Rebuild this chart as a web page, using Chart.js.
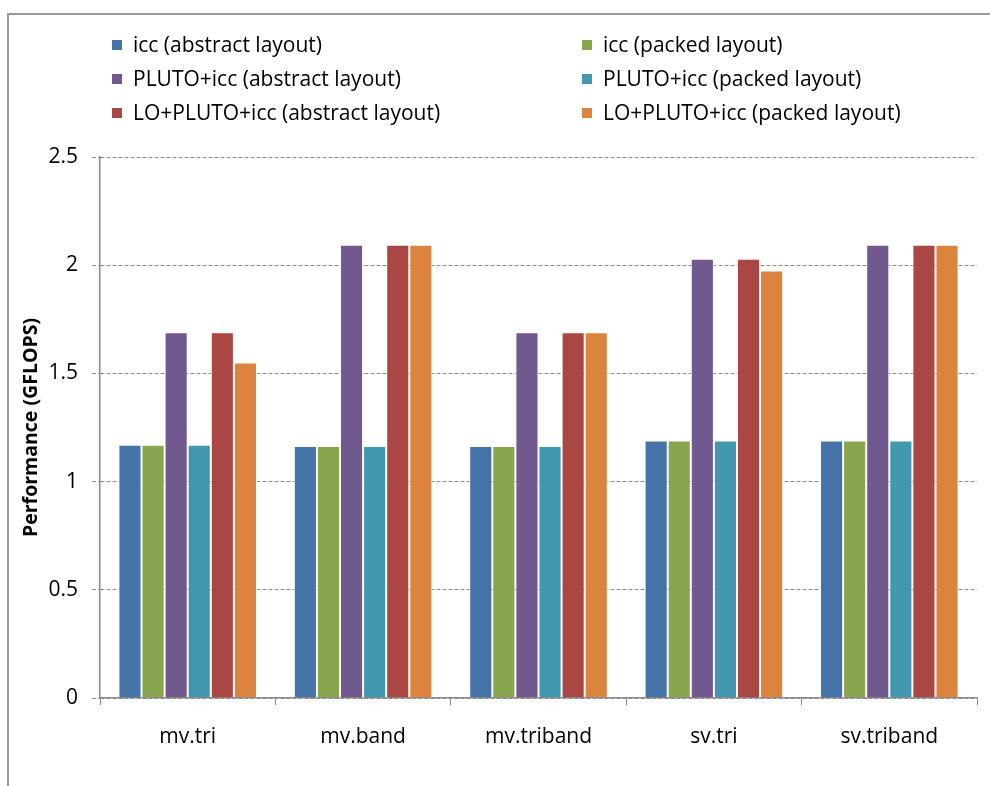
<!DOCTYPE html>
<html>
<head>
<meta charset="utf-8">
<script src="https://cdn.jsdelivr.net/npm/chart.js@4/dist/chart.umd.min.js"></script>
<style>
  html, body { margin: 0; padding: 0; background: #fff; }
  #wrap { position: relative; width: 990px; height: 786px; }
</style>
</head>
<body>
<div id="wrap"><canvas id="c" width="990" height="786"></canvas></div>
<script>
const FONT = '"Open Sans", "Noto Sans", sans-serif';

// Kernels on the x axis
const categories = ['mv.tri', 'mv.band', 'mv.triband', 'sv.tri', 'sv.triband'];

// Performance in GFLOPS per kernel
const iccAbstract      = [1.17, 1.165, 1.165, 1.19, 1.19];
const iccPacked        = [1.17, 1.165, 1.165, 1.19, 1.19];
const plutoAbstract    = [1.69, 2.095, 1.69, 2.03, 2.095];
const plutoPacked      = [1.17, 1.165, 1.165, 1.19, 1.19];
const loPlutoAbstract  = [1.69, 2.095, 1.69, 2.03, 2.095];
const loPlutoPacked    = [1.55, 2.095, 1.69, 1.975, 2.095];

const seriesNames = [
  'icc (abstract layout)',
  'icc (packed layout)',
  'PLUTO+icc (abstract layout)',
  'PLUTO+icc (packed layout)',
  'LO+PLUTO+icc (abstract layout)',
  'LO+PLUTO+icc (packed layout)'
];
const seriesValues = [iccAbstract, iccPacked, plutoAbstract, plutoPacked, loPlutoAbstract, loPlutoPacked];
const seriesColors = ['#4572A7', '#89A54E', '#71588F', '#4198AF', '#AA4643', '#DB843D'];

const yTicks = [0, 0.5, 1, 1.5, 2, 2.5];

// Outer frame of the chart
const framePlugin = {
  id: 'frame',
  beforeDraw(chart) {
    const ctx = chart.ctx;
    ctx.save();
    ctx.fillStyle = '#fff';
    ctx.fillRect(0, 0, chart.width, chart.height);
    ctx.strokeStyle = '#9a9a9a';
    ctx.lineWidth = 2;
    ctx.beginPath();
    ctx.moveTo(8, chart.height + 2);
    ctx.lineTo(8, 14);
    ctx.lineTo(chart.width + 2, 14);
    ctx.stroke();
    ctx.restore();
  }
};

// Two-column legend laid out in three rows
const legendPlugin = {
  id: 'twoColLegend',
  afterDraw(chart) {
    const ctx = chart.ctx;
    const colX = [112, 582];
    const rowY = [45, 79, 113];
    ctx.save();
    ctx.font = '21px ' + FONT;
    ctx.textBaseline = 'middle';
    ctx.textAlign = 'left';
    chart.data.datasets.forEach((ds, i) => {
      const x = colX[i % 2];
      const y = rowY[Math.floor(i / 2)];
      ctx.fillStyle = ds.backgroundColor;
      ctx.fillRect(x, y - 5, 10, 10);
      ctx.fillStyle = '#000';
      ctx.fillText(ds.label, x + 21, y + 1);
    });
    ctx.restore();
  }
};

new Chart(document.getElementById('c'), {
  type: 'bar',
  data: {
    labels: categories,
    datasets: seriesNames.map((name, i) => ({
      label: name,
      data: seriesValues[i],
      backgroundColor: seriesColors[i],
      borderColor: 'rgba(255,255,255,0.85)',
      borderWidth: 1,
      categoryPercentage: 0.79,
      barPercentage: 1.0
    }))
  },
  options: {
    responsive: false,
    animation: false,
    devicePixelRatio: 1,
    layout: { padding: { top: 157, right: 13, left: 0, bottom: 0 } },
    plugins: {
      legend: { display: false },
      tooltip: { enabled: false }
    },
    scales: {
      x: {
        grid: {
          display: true,
          offset: true,
          drawOnChartArea: false,
          drawTicks: true,
          tickLength: 7,
          color: '#8c8c8c',
          tickColor: '#8c8c8c'
        },
        border: { display: true, color: '#8c8c8c', width: 1.5 },
        ticks: {
          color: '#000',
          padding: 19,
          font: { family: FONT, size: 21 }
        },
        afterFit(scale) { scale.height = 786 - 698; }
      },
      y: {
        min: 0,
        max: 2.5,
        afterBuildTicks(scale) { scale.ticks = yTicks.map(v => ({ value: v })); },
        grid: {
          color: '#8c8c8c',
          lineWidth: 1,
          tickLength: 8,
          tickColor: '#8c8c8c',
          tickBorderDash: [4, 2]
        },
        border: { display: true, color: '#8c8c8c', width: 1.5, dash: [4, 2] },
        ticks: {
          color: '#000',
          padding: 14,
          font: { family: FONT, size: 21 },
          callback: (v) => String(v)
        },
        title: {
          display: true,
          text: 'Performance (GFLOPS)',
          color: '#000',
          padding: { top: 20, bottom: 0 },
          font: { family: FONT, size: 19.5, weight: 'bold' }
        },
        afterFit(scale) { scale.width = 100; }
      }
    }
  },
  plugins: [framePlugin, legendPlugin]
});
</script>
</body>
</html>
